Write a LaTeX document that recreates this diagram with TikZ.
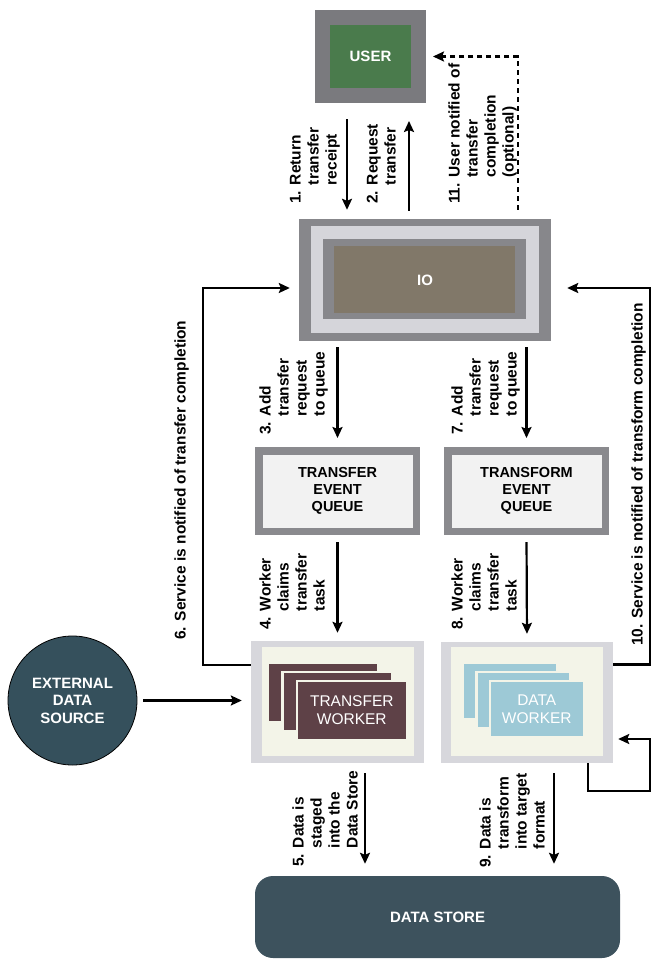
\documentclass[tikz,border=0pt]{standalone}
\usepackage{fontspec}
\setmainfont{Liberation Sans}
\usetikzlibrary{positioning, arrows.meta, calc}

\definecolor{usergray}{HTML}{7A7A7E}
\definecolor{usergreen}{HTML}{4A7B4C}
\definecolor{iogray}{HTML}{87878B}
\definecolor{ioband}{HTML}{D5D5DA}
\definecolor{iobrown}{HTML}{817869}
\definecolor{queuegray}{HTML}{8A8A8E}
\definecolor{queuefill}{HTML}{F2F2F2}
\definecolor{wkgray}{HTML}{D7D7DC}
\definecolor{wkcream}{HTML}{F3F4E8}
\definecolor{tcardc}{HTML}{5E4147}
\definecolor{dcardc}{HTML}{9DC9D6}
\definecolor{extc}{HTML}{35505C}
\definecolor{storec}{HTML}{3D525D}

% numbered step text with hanging indent
\newcommand{\steplbl}[2]{\begin{tabular}{@{}l@{ }l@{}}#1&\begin{tabular}[t]{@{}l@{}}#2\end{tabular}\end{tabular}}

\begin{document}
\begin{tikzpicture}[x=1pt, y=-1pt,
  flow/.style={line width=2.2pt, -{Stealth[length=11pt,width=10pt,inset=2pt]}},
  boxtext/.style={font=\fontsize{15}{17.5}\selectfont\bfseries, align=center},
  userbox/.style={boxtext, text=white, draw=usergray, line width=15pt, outer sep=7.5pt, fill=usergreen, minimum width=96pt, minimum height=78pt},
  iobox/.style={fill=iogray, minimum width=252pt, minimum height=122pt},
  queuebox/.style={boxtext, font=\fontsize{14.5}{17}\selectfont\bfseries, draw=queuegray, line width=7.5pt, outer sep=3.75pt, fill=queuefill, minimum width=157.5pt, minimum height=80.5pt},
  workerbox/.style={fill=wkgray, minimum width=173pt, minimum height=122pt},
  cardtext/.style={font=\fontsize{15.5}{18}\selectfont, text=white, align=center},
  extnode/.style={boxtext, text=white, circle, draw=black, line width=0.8pt, fill=extc, minimum size=129pt, inner sep=0pt},
  storebox/.style={boxtext, text=white, fill=storec, rounded corners=18pt, minimum width=365pt, minimum height=82pt},
  steplabel/.style={rotate=90, anchor=west, inner sep=0pt, font=\fontsize{15.5}{18}\selectfont\bfseries}
]
\useasboundingbox (0,0) rectangle (652,961);

% main boxes
\node[userbox] (user) at (370.5,56.5) {USER};

\node[iobox] (io) at (425,280) {};
\fill[ioband] ($(io.north west)+(12,7)$) rectangle ($(io.south east)+(-12,-8)$);
\fill[iogray] ($(io.north west)+(24,20)$) rectangle ($(io.south east)+(-25,-22)$);
\fill[iobrown] ($(io.north west)+(35,27)$) rectangle ($(io.south east)+(-36,-28)$);
\node[boxtext, text=white] (iotext) at (io) {IO};

\node[queuebox] (tqueue) at (337.5,491) {TRANSFER\\EVENT\\QUEUE};
\node[queuebox] (fqueue) at (526.5,491) {TRANSFORM\\EVENT\\QUEUE};

\node[workerbox] (tworker) at (337.5,702) {};
\fill[wkcream] ($(tworker.north west)+(11,6)$) rectangle ($(tworker.south east)+(-10,-7)$);
\foreach \i in {0,1,2}
  \draw[fill=tcardc, draw=wkcream, line width=2.5pt] ($(tworker.north west)+(17+14.5*\i,22+9*\i)$) rectangle ++(110,59);
\node[cardtext] (tcard) at ($(tworker.north west)+(101,69.5)$) {TRANSFER\\WORKER};

\node[workerbox, minimum width=172pt, minimum height=121pt] (dworker) at (527,702.5) {};
\fill[wkcream] ($(dworker.north west)+(10,5)$) rectangle ($(dworker.south east)+(-10,-7)$);
\foreach \i in {0,1,2}
  \draw[fill=dcardc, draw=wkcream, line width=2.5pt] ($(dworker.north west)+(22+13.5*\i,21+9*\i)$) rectangle ++(94,56);
\node[cardtext] (dcard) at ($(dworker.north west)+(96,67)$) {DATA\\WORKER};

\node[extnode] (extsrc) at (72.5,700.5) {EXTERNAL\\DATA\\SOURCE};
\node[storebox] (store) at (437.5,917) {DATA STORE};

% connectors
\draw[flow, shorten <=16pt, shorten >=9pt] ([xshift=-23.5pt]user.south) -- ([xshift=-23.5pt]user.south |- io.north);
\draw[flow, shorten <=8pt, shorten >=18pt] ([xshift=38.5pt]user.south |- io.north) -- ([xshift=38.5pt]user.south);
\draw[flow, dash pattern=on 5pt off 4pt, shorten <=9pt, shorten >=7pt] ([xshift=93pt]io.north) |- (user.east);

\draw[flow, shorten <=6pt, shorten >=9pt] (tqueue.north |- io.south) -- (tqueue.north);
\draw[flow, shorten <=6pt, shorten >=9pt] (fqueue.north |- io.south) -- (fqueue.north);
\draw[flow, shorten <=7pt, shorten >=8pt] (tqueue.south) -- (tworker.north);
\draw[flow, shorten <=7pt, shorten >=8pt] (fqueue.south) -- (dworker.north);

\draw[flow, shorten <=6pt, shorten >=9pt] (extsrc.east) -- (extsrc.east -| tworker.west);
\draw[flow, shorten >=9pt] ([yshift=37pt]tworker.west) -- ++(-48,0) |- ([yshift=-8pt]io.west);
\draw[flow, shorten >=16pt] ([yshift=38pt]dworker.east) -- ++(37,0) |- ([yshift=-8pt]io.east);
\draw[flow, shorten >=5pt] ([xshift=61pt]dworker.south) |- ++(62,28) |- ([yshift=-36.5pt]dworker.east);

\draw[flow, shorten <=10pt, shorten >=12pt] ([xshift=27.5pt]tworker.south) -- ([xshift=27.5pt]tworker.south |- store.north);
\draw[flow, shorten <=10pt, shorten >=12pt] ([xshift=27pt]dworker.south) -- ([xshift=27pt]dworker.south |- store.north);

% step labels
\node[steplabel] (s1) at (315,204) {\steplbl{1.}{Return\\transfer\\receipt}};
\node[steplabel] (s2) at (383,204) {\steplbl{2.}{Request\\transfer}};
\node[steplabel] (s11) at (483,204) {\steplbl{11.}{User notified of\\transfer\\completion\\(optional)}};
\node[steplabel] (s3) at (294,435) {\steplbl{3.}{Add\\transfer\\request\\to queue}};
\node[steplabel] (s7) at (486,435) {\steplbl{7.}{Add\\transfer\\request\\to queue}};
\node[steplabel] (s4) at (294,630) {\steplbl{4.}{Worker\\claims\\transfer\\task}};
\node[steplabel] (s8) at (486,630) {\steplbl{8.\hspace{9pt}}{Worker\\claims\\transfer\\task}};
\node[steplabel] (s5) at (327,867) {\steplbl{5.}{Data is\\staged\\into the\\Data Store}};
\node[steplabel] (s9) at (514,868) {\steplbl{9.\hspace{9pt}}{Data is\\transform\\into target\\format}};
\node[steplabel] (s6) at (182,640) {\steplbl{6.}{Service is notified of transfer completion}};
\node[steplabel] (s10) at (639,646) {\steplbl{10.}{Service is notified of transform completion}};
\end{tikzpicture}
\end{document}
